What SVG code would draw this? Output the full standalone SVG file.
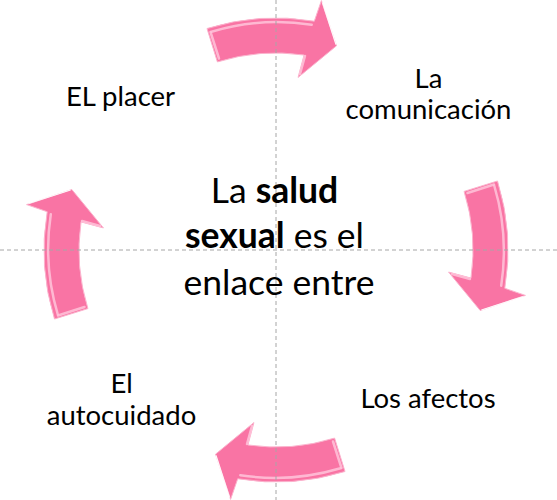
<svg xmlns="http://www.w3.org/2000/svg" width="557" height="500" viewBox="0 0 557 500">
  <style>
    .lbl { font-family: Lato, "Liberation Sans", sans-serif; font-size: 27.5px; fill: #000; }
    .ctr { font-family: Lato, "Liberation Sans", sans-serif; font-size: 35.5px; fill: #000; }
    .b { font-weight: bold; }
    .guide { stroke: #a6a6a6; stroke-width: 1; stroke-dasharray: 4 3; fill: none; }
    .arrow { fill: #f974a4; stroke: #fbb3cd; stroke-width: 1; stroke-linejoin: miter; }
    .hl { fill: none; stroke: #ffc4da; stroke-width: 2.5; stroke-linecap: round; opacity: 0.85; }
    .hw { fill: none; stroke: #ffffff; stroke-width: 1.2; opacity: 0.9; }
  </style>
  <defs>
    <g id="arrowShape">
      <path class="arrow" d="M207,28.5 A232,232 0 0 1 314.3,21.2 L321.4,0.6 L336.5,45.8 L298.1,77.4 L304.1,55 A197,197 0 0 0 217.4,61.9 Z"/>
      <path class="hl" d="M211.5,31.8 A228,228 0 0 1 311.7,24.8"/>
      <path class="hl" d="M210.5,32 L219,58.5"/>
      <path class="hw" d="M322.5,2.5 L336,44.5"/>
      <path class="hl" d="M300,74 L305,56" opacity="0.5"/>
    </g>
  </defs>
  <rect width="557" height="500" fill="#ffffff"/>
  <g id="connectors">
    <use href="#arrowShape"/>
    <use href="#arrowShape" transform="rotate(90 276 250)"/>
    <use href="#arrowShape" transform="rotate(180 276 250)"/>
    <use href="#arrowShape" transform="rotate(270 276 250)"/>
  </g>
  <g id="guides">
    <line class="guide" x1="276" y1="0" x2="276" y2="500"/>
    <line class="guide" x1="0" y1="250" x2="557" y2="250"/>
  </g>
  <g id="center">
    <text class="ctr" text-anchor="middle">
      <tspan x="279" y="203">La <tspan class="b">salud</tspan></tspan>
      <tspan x="279" y="248"><tspan class="b">sexual</tspan> es el</tspan>
      <tspan x="279" y="295">enlace entre</tspan>
    </text>
  </g>
  <g id="node-comunicacion">
    <text class="lbl" text-anchor="middle"><tspan x="428.5" y="88">La</tspan><tspan x="428.5" y="119">comunicación</tspan></text>
  </g>
  <g id="node-afectos">
    <text class="lbl" text-anchor="middle" x="428" y="408">Los afectos</text>
  </g>
  <g id="node-autocuidado">
    <text class="lbl" text-anchor="middle"><tspan x="121.5" y="393">El</tspan><tspan x="121.5" y="425">autocuidado</tspan></text>
  </g>
  <g id="node-placer">
    <text class="lbl" text-anchor="middle" x="120.5" y="106">EL placer</text>
  </g>
</svg>
